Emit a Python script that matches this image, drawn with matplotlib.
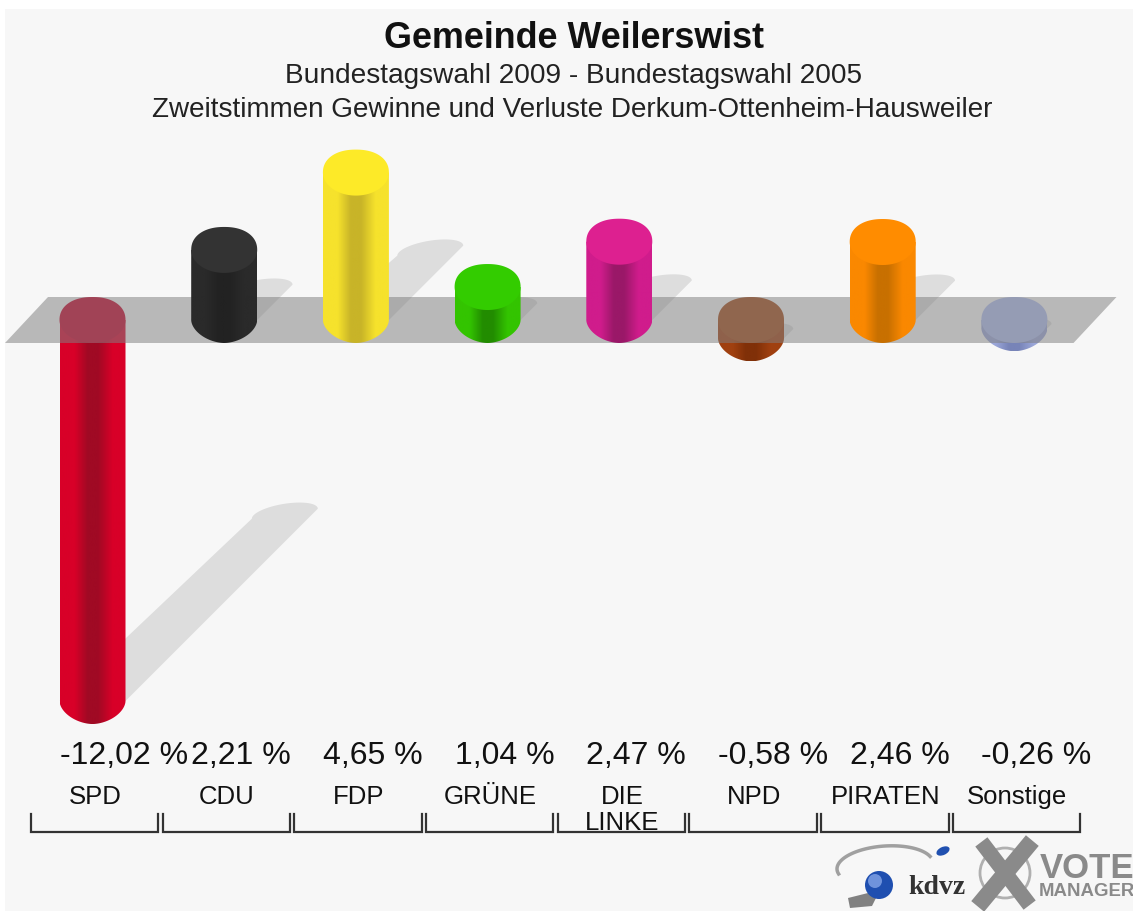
import matplotlib
matplotlib.use("Agg")
import matplotlib.pyplot as plt
import numpy as np
from matplotlib.patches import Polygon, Circle, Ellipse
from matplotlib.colors import LinearSegmentedColormap
from matplotlib.transforms import Affine2D

parties = ["SPD", "CDU", "FDP", "GRÜNE", "DIE\nLINKE", "NPD", "PIRATEN", "Sonstige"]
changes = [-12.02, 2.21, 4.65, 1.04, 2.47, -0.58, 2.46, -0.26]
change_labels = ["-12,02 %", "2,21 %", "4,65 %", "1,04 %", "2,47 %", "-0,58 %", "2,46 %", "-0,26 %"]
cap_colors = ["#c80028", "#333333", "#fdea28", "#33cc00", "#dd2090", "#a44a18", "#ff8c00", "#aebcf0"]
edge_colors = ["#d80028", "#2a2a2a", "#f6e22c", "#33c400", "#d01c8c", "#a04010", "#fa8800", "#9aa6d8"]
dark_colors = ["#a00a24", "#222222", "#c8b428", "#228c00", "#9a1868", "#803008", "#c87000", "#7884b8"]

W, H = 1133, 911
PX_PER_CAT = 131.7
PX_PER_PCT = 31.7
X0, Y0 = 92.5, 320
HALF_W = 33 / PX_PER_CAT
HALF_H = 23 / PX_PER_PCT
BG = "#f7f7f7"

plt.rcParams["font.family"] = ["Liberation Sans", "DejaVu Sans"]

fig = plt.figure(figsize=(W / 100, H / 100), dpi=100, facecolor="white")
ax = fig.add_axes([0, 0, 1, 1])
ax.set_xlim(-X0 / PX_PER_CAT, (W - X0) / PX_PER_CAT)
ax.set_ylim((Y0 - H) / PX_PER_PCT, Y0 / PX_PER_PCT)
ax.axis("off")
# pixel coords for text and the logo
px = Affine2D().scale(1 / W, -1 / H).translate(0, 1) + fig.transFigure

ax.add_patch(plt.Rectangle((5, 9), W - 5, H - 9, transform=px, fc=BG, ec="none", zorder=0))


def arc(cx, cy, a, b, n=2.0, hw=HALF_W, hh=HALF_H):
    # superellipse piece, n=2 is a plain ellipse
    t = np.radians(np.linspace(a, b, 60))
    c, s = np.cos(t), np.sin(t)
    return np.column_stack([cx + hw * np.sign(c) * np.abs(c) ** (2 / n),
                            cy + hh * np.sign(s) * np.abs(s) ** (2 / n)])


def draw_bar(i, v, z):
    top = max(v, 0)
    bottom = min(v, 0)
    body = np.vstack([arc(i, bottom, 180, 360, 1.8), [[i + HALF_W, top], [i - HALF_W, top]]])
    cmap = LinearSegmentedColormap.from_list("b", [(0, edge_colors[i]), (0.22, edge_colors[i]), (0.42, dark_colors[i]),
                                                   (0.58, dark_colors[i]), (0.8, edge_colors[i]), (1, edge_colors[i])])
    im = ax.imshow(np.linspace(0, 1, 128).reshape(1, -1), cmap=cmap, aspect="auto", zorder=z,
                   extent=(i - HALF_W, i + HALF_W, bottom - HALF_H, top))
    patch = Polygon(body, closed=True, fc="none", ec="none", transform=ax.transData, zorder=z)
    ax.add_patch(patch)
    im.set_clip_path(patch)
    cap = np.vstack([arc(i, top, 0, 180, 2.2), arc(i, top, 180, 360, 2.0)])
    ax.add_patch(Polygon(cap, closed=True, fc=cap_colors[i], ec="none", zorder=z + 0.1))


def draw_shadow(i, v):
    # falls up and to the right, from the far end of the bar
    base = min(v, 0)
    dx = 16 * abs(v) / PX_PER_CAT
    dy = 16 * abs(v) / PX_PER_PCT
    t = np.radians(np.linspace(0, 180, 40))
    tip = np.column_stack([i + dx + HALF_W * np.cos(t),
                           base + dy + (10 * np.sin(t) + 5 * (np.cos(t) - 1)) / PX_PER_PCT])
    pts = np.vstack([tip, [[i - HALF_W, base], [i + HALF_W, base]]])
    ax.add_patch(Polygon(pts, closed=True, fc="black", ec="none", alpha=0.1, zorder=1))


for i, v in enumerate(changes):
    draw_shadow(i, v)
    draw_bar(i, v, 2 if v < 0 else 4)

# floor band, lies over the negative bars
fl = (Y0 - 297) / PX_PER_PCT
ax.add_patch(Polygon([[-87.5 / PX_PER_CAT, -fl], [-44.5 / PX_PER_CAT, fl],
                      [1024 / PX_PER_CAT, fl], [981 / PX_PER_CAT, -fl]],
                     closed=True, fc="#808080", ec="none", alpha=0.53, zorder=3))

# titles
ax.text(574, 38, "Gemeinde Weilerswist", transform=px, ha="center", va="center", fontsize=25.8, fontweight="bold", color="#111111")
ax.text(573.5, 76, "Bundestagswahl 2009 - Bundestagswahl 2005", transform=px, ha="center", va="center", fontsize=20.2, color="#222222")
ax.text(572.5, 110, "Zweitstimmen Gewinne und Verluste Derkum-Ottenheim-Hausweiler", transform=px, ha="center", va="center", fontsize=20.1, color="#222222")

# values, labels, brackets
for i, (name, lab) in enumerate(zip(parties, change_labels)):
    ax.text(i - HALF_W, -(756 - Y0) / PX_PER_PCT, lab, ha="left", va="center", fontsize=23, color="#111111", zorder=6)
    ax.text(i + 0.02, -(785 - Y0) / PX_PER_PCT, name, ha="center", va="top", fontsize=18.5, color="#111111",
            linespacing=1.08, zorder=6)
    xl, xr = i - 0.467, i + 0.5
    yt, yb = -(814 - Y0) / PX_PER_PCT, -(832 - Y0) / PX_PER_PCT
    ax.plot([xl, xl, xr, xr], [yt, yb, yb, yt], color="#333333", lw=1.6, zorder=5, solid_joinstyle="miter")

# logos
t = np.radians(np.linspace(20, 195, 60))
ax.plot(885 + 48 * np.cos(t), 866 - 20 * np.sin(t) - 0.06 * (48 * np.cos(t)), transform=px, color="#a0a0a0", lw=2.5, zorder=5)
ax.add_patch(Polygon([[848, 898], [880, 890], [872, 906], [850, 908]], transform=px, fc="#333333", ec="none", alpha=0.6, zorder=5))
ax.add_patch(Circle((879, 885), 14, transform=px, fc="#1f4fb0", ec="none", zorder=6))
ax.add_patch(Circle((875, 881), 7, transform=px, fc="#6f93dc", ec="none", zorder=6))
ax.add_patch(Ellipse((943, 851), 14, 8, angle=-25, transform=px, fc="#2050b0", ec="none", zorder=6))
ax.text(937, 888, "kdvz", transform=px, ha="center", va="center", fontsize=20, fontweight="bold", family="Liberation Serif", color="#333333", zorder=6)
ax.add_patch(Circle((1005, 873), 25, transform=px, fc="none", ec="#b0b0b0", lw=2, zorder=5))
ax.plot([986, 1025], [848, 899], transform=px, color="#8a8a8a", lw=11, zorder=6)
ax.plot([1027, 983], [847, 900], transform=px, color="#8a8a8a", lw=12, zorder=6)
ax.text(1087, 868, "VOTE", transform=px, ha="center", va="center", fontsize=25, fontweight="bold", color="#8a8a8a", zorder=6)
ax.text(1087, 891, "MANAGER", transform=px, ha="center", va="center", fontsize=13.4, fontweight="bold", color="#8a8a8a", zorder=6)

ax.set_xlim(-X0 / PX_PER_CAT, (W - X0) / PX_PER_CAT)
ax.set_ylim((Y0 - H) / PX_PER_PCT, Y0 / PX_PER_PCT)
fig.savefig("out.png", dpi=100)
